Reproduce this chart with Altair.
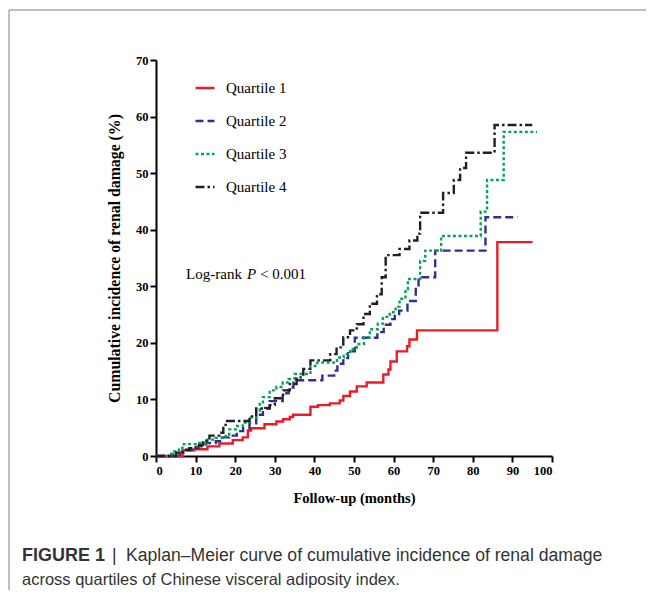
import altair as alt
import pandas as pd

series_names = ["Quartile 1", "Quartile 2", "Quartile 3", "Quartile 4"]
colors = ["#ED1C24", "#2E3192", "#00A651", "#231F20"]
dashes = [[1, 0], [8, 4], [3, 2.5], [9, 3, 2.5, 3]]

q1_t = [0, 6.7, 9.6, 13.0, 16.0, 19.4, 21.9, 23.2, 24.0, 27.4, 30.4, 32.1, 33.8, 34.6, 39.0, 40.9,
        43.9, 46.4, 47.3, 49.0, 50.7, 53.2, 57.4, 58.7, 59.2, 60.8, 63.4, 64.0, 65.9, 86.2, 95.1]
q1_v = [0, 1.0, 1.2, 1.7, 2.2, 2.8, 3.3, 4.5, 4.9, 5.6, 6.1, 6.5, 6.9, 7.3, 8.7, 9.0,
        9.3, 9.8, 10.6, 11.4, 12.3, 13.0, 14.4, 15.3, 16.7, 18.5, 19.4, 20.6, 22.2, 37.8, 37.8]

q2_t = [0, 4.0, 6.0, 7.6, 9.0, 10.7, 12.5, 15.1, 16.8, 18.5, 20.4, 22.0, 23.6, 25.3, 27.0, 28.7,
        32.0, 33.5, 34.7, 42.0, 45.0, 45.8, 47.3, 48.5, 50.2, 55.9, 57.5, 59.2, 60.3, 61.4, 63.5,
        65.6, 66.3, 70.5, 83.2, 91.3]
q2_v = [0, 0.3, 0.6, 1.0, 1.3, 1.7, 2.3, 2.6, 3.3, 3.6, 4.4, 4.9, 5.8, 7.3, 8.5, 9.7,
        11.1, 12.1, 13.4, 14.2, 15.1, 16.3, 17.3, 18.5, 20.9, 21.9, 23.2, 24.2, 25.1, 25.7, 27.4,
        29.8, 31.6, 36.3, 42.2, 42.2]

q3_t = [0, 3.3, 4.6, 5.8, 6.7, 10.0, 13.0, 15.0, 17.6, 18.5, 20.2, 21.9, 23.6, 25.3, 26.2, 27.0,
        28.7, 30.4, 32.0, 33.5, 35.0, 39.0, 40.7, 45.7, 47.4, 49.0, 50.7, 52.5, 54.0, 56.0, 57.3,
        59.0, 60.5, 61.5, 63.0, 63.6, 66.7, 68.0, 72.0, 82.0, 83.6, 87.8, 96.2]
q3_v = [0, 0.4, 0.8, 1.4, 2.1, 2.3, 2.9, 3.2, 3.8, 4.7, 5.3, 5.9, 6.8, 8.0, 9.2, 10.4,
        11.6, 12.2, 13.0, 13.6, 14.5, 15.9, 16.5, 17.4, 18.0, 18.9, 19.8, 21.0, 22.4, 23.4, 24.6,
        25.4, 26.4, 27.8, 29.5, 31.3, 34.5, 36.3, 38.9, 43.2, 48.8, 57.3, 57.3]

q4_t = [0, 5.1, 6.7, 8.4, 10.0, 11.8, 13.5, 16.0, 17.0, 17.6, 23.6, 25.3, 28.7, 30.0, 32.1, 33.8,
        35.5, 37.2, 39.0, 44.0, 45.6, 47.3, 49.0, 50.7, 52.4, 54.0, 55.8, 57.0, 58.0, 61.5, 64.0,
        66.0, 66.7, 72.5, 75.2, 76.8, 78.3, 85.5, 95.0]
q4_v = [0, 0.6, 1.1, 1.4, 1.9, 2.7, 3.6, 4.1, 5.5, 6.2, 7.0, 8.4, 9.0, 10.2, 11.6, 12.7,
        13.9, 15.4, 16.9, 18.0, 19.2, 21.0, 22.2, 23.3, 25.1, 26.9, 28.6, 31.6, 35.5, 36.6, 38.1,
        39.3, 43.0, 46.5, 48.8, 50.9, 53.6, 58.5, 58.5]

x_ticks = list(range(0, 101, 10))
y_ticks = list(range(0, 71, 10))

annot_parts = ["Log-rank", "P", "< 0.001"]
annot_x = [7.6, 23.0, 26.3]
annot_y = [32.2, 32.2, 32.2]

caption_bold = "FIGURE 1"
caption_bar = "|"
caption_line1 = "Kaplan\u2013Meier curve of cumulative incidence of renal damage"
caption_line2 = "across quartiles of Chinese visceral adiposity index."

rows = []
for i, (name, ts, vs) in enumerate(zip(series_names, [q1_t, q2_t, q3_t, q4_t], [q1_v, q2_v, q3_v, q4_v])):
    for t, v in zip(ts, vs):
        rows.append({"series": name, "t": t, "v": v, "k": i})
df = pd.DataFrame(rows)

x_scale = alt.Scale(domain=[0, 100], nice=False)
y_scale = alt.Scale(domain=[0, 70], nice=False)

x_axis = alt.Axis(title="Follow-up (months)", values=x_ticks, labelOverlap=False,
                  titlePadding=15, titleFontSize=14.5)
y_axis = alt.Axis(title="Cumulative incidence of renal damage (%)", values=y_ticks,
                  labelOverlap=False, titlePadding=13, titleFontSize=15.8)

legend = alt.Legend(
    orient="none", legendX=38, legendY=17, title=None, symbolType="stroke",
    symbolSize=361, symbolStrokeWidth=2.5, labelFont="Liberation Serif",
    labelFontSize=15, labelColor="black", rowPadding=14, labelOffset=10,
)

lines = alt.Chart(df).mark_line(interpolate="step-after", strokeWidth=2.4).encode(
    x=alt.X("t:Q", scale=x_scale, axis=x_axis),
    y=alt.Y("v:Q", scale=y_scale, axis=y_axis),
    color=alt.Color("series:N", scale=alt.Scale(domain=series_names, range=colors), legend=legend),
    strokeDash=alt.StrokeDash("series:N", scale=alt.Scale(domain=series_names, range=dashes), legend=legend),
    detail="series:N",
)

def annot(i, style):
    d = pd.DataFrame({"x": [annot_x[i]], "y": [annot_y[i]], "s": [annot_parts[i]]})
    return alt.Chart(d).mark_text(align="left", baseline="middle", font="Liberation Serif",
                                  fontSize=15, fontStyle=style, color="black").encode(
        x=alt.X("x:Q", scale=x_scale, axis=x_axis), y=alt.Y("y:Q", scale=y_scale, axis=y_axis),
        text="s:N")

ann = annot(0, "normal") + annot(1, "italic") + annot(2, "normal")

def cap(txt, xv, yv, weight, size):
    d = pd.DataFrame({"s": [txt]})
    return alt.Chart(d).mark_text(align="left", baseline="middle", font="Liberation Sans",
                                  fontSize=size, fontWeight=weight, color="#333333").encode(
        x=alt.value(xv), y=alt.value(yv), text="s:N")

caption = (cap(caption_bold, -134, 496, "bold", 18) + cap(caption_bar, -44, 496, "normal", 17.5)
           + cap(caption_line1, -30, 496, "normal", 17.6) + cap(caption_line2, -134, 520, "normal", 16.5))

frame_df = pd.DataFrame({"k": [0]})
frame_v = alt.Chart(frame_df).mark_rule(color="#aaaaaa", strokeWidth=1.5).encode(
    x=alt.value(-147), y=alt.value(-50), y2=alt.value(540))
frame_h = alt.Chart(frame_df).mark_rule(color="#aaaaaa", strokeWidth=1.5).encode(
    x=alt.value(-147), x2=alt.value(510), y=alt.value(-50))

chart = alt.layer(lines, ann, frame_v, frame_h, caption).properties(
    width=396, height=396,
    padding={"left": 148, "top": 52, "right": 94, "bottom": 134},
    autosize=alt.AutoSizeParams(type="none"),
    background="white",
).configure_view(stroke=None).configure_axis(
    grid=False, domainColor="black", domainWidth=2, tickColor="black", tickWidth=2, tickSize=6,
    labelFont="Liberation Serif", labelFontWeight="bold", labelFontSize=12.5, labelColor="black",
    labelPadding=2, titleFont="Liberation Serif", titleFontWeight="bold", titleColor="black",
)

chart.save("out.html", embed_options={"renderer": "svg", "actions": False})
